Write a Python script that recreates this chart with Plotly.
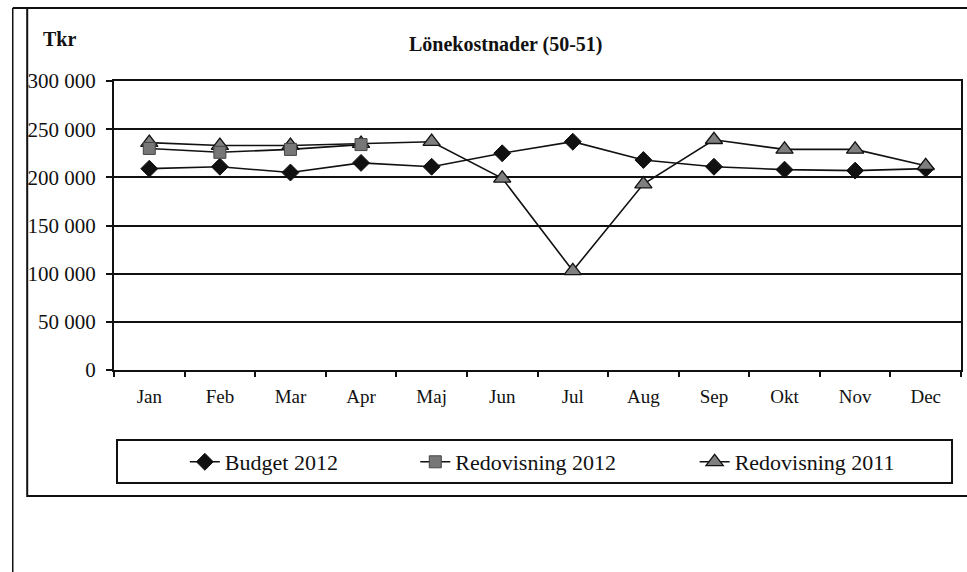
import plotly.graph_objects as go

# Monthly wage costs (accounts 50-51), thousands of SEK
months = ["Jan", "Feb", "Mar", "Apr", "Maj", "Jun", "Jul", "Aug", "Sep", "Okt", "Nov", "Dec"]
budget_2012 = [209000, 211000, 205000, 215000, 211000, 225000, 237000, 218000, 211000, 208000, 207000, 209000]
redovisning_2012 = [230000, 226000, 229000, 234000]
redovisning_2011 = [236000, 233000, 233000, 235000, 237000, 199000, 103000, 193000, 239000, 229000, 229000, 212000]
y_ticks = [0, 50000, 100000, 150000, 200000, 250000, 300000]

W, H = 967, 572
L, R, T, B = 114, 4, 81, 202
PW, PH = W - L - R, H - T - B


def px(x):
    return (x - L) / PW


def py(y):
    return (H - B - y) / PH


SERIF = "Liberation Serif, Times New Roman, serif"
INK = "#111111"

fig = go.Figure()

fig.add_trace(go.Scatter(
    x=months, y=budget_2012, name="Budget 2012", mode="lines+markers",
    line=dict(color=INK, width=1.6),
    marker=dict(symbol="diamond", size=13, color=INK, line=dict(color=INK, width=1)),
    legend="legend",
))
fig.add_trace(go.Scatter(
    x=months, y=redovisning_2011, name="Redovisning 2011", mode="lines+markers",
    line=dict(color=INK, width=1.6),
    marker=dict(symbol="triangle-up", size=15, color="#7f7f7f", line=dict(color=INK, width=1.3)),
    legend="legend3",
))
fig.add_trace(go.Scatter(
    x=months[:len(redovisning_2012)], y=redovisning_2012, name="Redovisning 2012", mode="lines+markers",
    line=dict(color=INK, width=1.6),
    marker=dict(symbol="square", size=12, color="#777777", line=dict(color="#444444", width=1)),
    legend="legend2",
))

legend_common = dict(
    orientation="h", yanchor="middle", xanchor="left",
    font=dict(family=SERIF, size=22, color=INK),
    bgcolor="rgba(0,0,0,0)", borderwidth=0,
)

fig.update_layout(
    width=W, height=H,
    margin=dict(l=L, r=R, t=T, b=B, pad=0),
    paper_bgcolor="white", plot_bgcolor="white",
    separators=", ",
    showlegend=True,
    legend=dict(x=px(185), y=py(462), **legend_common),
    legend2=dict(x=px(416), y=py(462), **legend_common),
    legend3=dict(x=px(696), y=py(462), **legend_common),
    xaxis=dict(
        type="category", categoryorder="array", categoryarray=months,
        range=[-0.5, len(months) - 0.5],
        showgrid=False, showline=True, linecolor=INK, linewidth=2, mirror=True,
        ticks="outside", tickson="boundaries", ticklen=5, tickwidth=1.5, tickcolor=INK,
        tickfont=dict(family=SERIF, size=19, color=INK), ticklabelstandoff=8,
        fixedrange=True,
    ),
    yaxis=dict(
        range=[0, 300000], tickvals=y_ticks, tickformat=",d",
        showgrid=True, gridcolor=INK, gridwidth=2,
        showline=True, linecolor=INK, linewidth=2, mirror=True,
        ticks="outside", ticklen=6, tickwidth=1.5, tickcolor=INK,
        tickfont=dict(family=SERIF, size=21, color=INK), ticklabelstandoff=6,
        zeroline=False, fixedrange=True,
    ),
    annotations=[
        dict(text="<b>Lönekostnader (50-51)</b>", x=px(507), y=py(44), xref="paper", yref="paper",
             xanchor="center", yanchor="middle", showarrow=False,
             font=dict(family=SERIF, size=20, color=INK)),
        dict(text="<b>Tkr</b>", x=px(41), y=py(39), xref="paper", yref="paper",
             xanchor="left", yanchor="middle", showarrow=False,
             font=dict(family=SERIF, size=20, color=INK)),
    ],
    shapes=[
        # page margin line
        dict(type="line", xref="paper", yref="paper", x0=px(12.5), x1=px(12.5), y0=py(8), y1=py(572),
             line=dict(color=INK, width=1.5)),
        # chart area frame
        dict(type="rect", xref="paper", yref="paper", x0=px(27), x1=px(990), y0=py(496), y1=py(8),
             line=dict(color=INK, width=2)),
        dict(type="line", xref="paper", yref="paper", x0=px(12.5), x1=px(27), y0=py(8), y1=py(8),
             line=dict(color=INK, width=2)),
        # legend frame
        dict(type="rect", xref="paper", yref="paper", x0=px(117), x1=px(954), y0=py(483), y1=py(440),
             line=dict(color=INK, width=2)),
    ],
)

fig.write_html("out.html")
